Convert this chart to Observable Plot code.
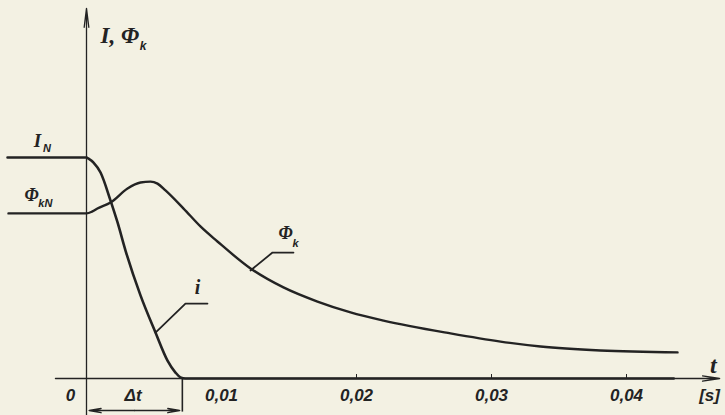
<!DOCTYPE html>
<html>
<head>
<meta charset="utf-8">
<script src="https://cdn.jsdelivr.net/npm/d3@7"></script>
<script src="https://cdn.jsdelivr.net/npm/@observablehq/plot@0.6"></script>
<style>
  html, body { margin: 0; padding: 0; background: #f3f1e3; }
  #chart { width: 725px; height: 415px; }
</style>
</head>
<body>
<div id="chart"></div>
<script>
// time (s) and current i (relative, I_N = 1)
const iT = [-0.00585, 0, 0.00015, 0.00052, 0.00104, 0.00178, 0.0023, 0.00289, 0.004, 0.00511, 0.006, 0.00659, 0.00696, 0.00733, 0.0435];
const iV = [1.0, 1.0, 0.995, 0.977, 0.932, 0.805, 0.706, 0.579, 0.376, 0.208, 0.081, 0.027, 0.005, 0, 0];
// time (s) and flux Φ_k (same relative units)
const phiT = [-0.00578, 0, 0.00044, 0.00081, 0.00178, 0.00304, 0.004, 0.00474, 0.00526, 0.00585, 0.00719, 0.00844, 0.0097, 0.01215, 0.01459, 0.01711, 0.01956, 0.022, 0.02696, 0.03067, 0.03363, 0.03807, 0.04378];
const phiV = [0.747, 0.747, 0.756, 0.769, 0.796, 0.86, 0.887, 0.891, 0.882, 0.851, 0.769, 0.688, 0.62, 0.498, 0.412, 0.348, 0.299, 0.262, 0.204, 0.167, 0.145, 0.127, 0.118];
// axis tick values and labels
const tickValues = [0, 0.01, 0.02, 0.03, 0.04];
const tickLabels = ["0", "0,01", "0,02", "0,03", "0,04"];
// switching interval Δt
const deltaT = 0.0071;

const iData = iT.map((t, k) => ({t, v: iV[k]}));
const phiData = phiT.map((t, k) => ({t, v: phiV[k]}));
const ink = "#232323";
const labelY = -0.077;
const lblFont = "'Liberation Sans', Arial, sans-serif";
const serif = "'Liberation Serif', 'DejaVu Serif', serif";

const chart = Plot.plot({
  width: 725,
  height: 415,
  margin: 0,
  x: {domain: [-86 / 13500, 639 / 13500], axis: null},
  y: {domain: [-37 / 221, 378 / 221], axis: null},
  style: {background: "#f3f1e3", overflow: "visible"},
  marks: [
    // axes with arrows
    Plot.arrow([{x1: -0.0023, y1: 0, x2: 0.0469, y2: 0}], {x1: "x1", y1: "y1", x2: "x2", y2: "y2", stroke: ink, strokeWidth: 1.3, headLength: 20, headAngle: 18}),
    Plot.arrow([{x1: 0, y1: -0.17, x2: 0, y2: 1.675}], {x1: "x1", y1: "y1", x2: "x2", y2: "y2", stroke: ink, strokeWidth: 1.3, headLength: 22, headAngle: 14}),
    // small tick marks
    Plot.ruleX(tickValues.slice(2), {x: d => d, y1: 0, y2: 0.018, stroke: ink, strokeWidth: 1}),
    // Δt dimension
    Plot.ruleX([deltaT], {x: d => d, y1: 0, y2: -0.152, stroke: ink, strokeWidth: 1.6}),
    Plot.arrow([{x1: deltaT / 2, x2: 0.0002}, {x1: deltaT / 2, x2: deltaT - 0.0002}], {x1: "x1", x2: "x2", y1: -0.145, y2: -0.145, stroke: ink, strokeWidth: 1.5, headLength: 12, headAngle: 20}),
    Plot.text(["Δt"], {x: deltaT / 2 - 0.0001, y: labelY, text: d => d, fontSize: 17, fontStyle: "italic", fontWeight: "bold", fontFamily: lblFont, fill: ink}),
    // curves
    Plot.line(iData, {x: "t", y: "v", curve: "monotone-x", stroke: ink, strokeWidth: 2.6}),
    Plot.line(phiData, {x: "t", y: "v", curve: "monotone-x", stroke: ink, strokeWidth: 2.4}),
    // leader lines
    Plot.line([{t: 0.01215, v: 0.489}, {t: 0.01378, v: 0.57}, {t: 0.01533, v: 0.57}], {x: "t", y: "v", stroke: ink, strokeWidth: 1.8}),
    Plot.line([{t: 0.00511, v: 0.208}, {t: 0.00733, v: 0.339}, {t: 0.00896, v: 0.339}], {x: "t", y: "v", stroke: ink, strokeWidth: 1.8}),
    // tick labels
    Plot.text(tickValues, {x: (d, k) => k === 0 ? -0.00119 : d, y: labelY, text: (d, k) => tickLabels[k], fontSize: 17, fontStyle: "italic", fontWeight: "bold", fontFamily: lblFont, fill: ink}),
    // axis unit labels
    Plot.text(["t"], {x: 0.04644, y: 0.06, text: d => d, fontSize: 24, fontStyle: "italic", fontWeight: "bold", fontFamily: serif, fill: ink}),
    Plot.text(["[s]"], {x: 0.04615, y: labelY, text: d => d, fontSize: 17, fontStyle: "italic", fontWeight: "bold", fontFamily: lblFont, fill: ink}),
    // y axis title
    Plot.text(["I, Φ"], {x: 0.00104, y: 1.552, text: d => d, textAnchor: "start", fontSize: 23, fontStyle: "italic", fontWeight: "bold", fontFamily: serif, fill: ink}),
    Plot.text(["k"], {x: 0.0042, y: 1.505, text: d => d, fontSize: 12, fontStyle: "italic", fontWeight: "bold", fontFamily: lblFont, fill: ink}),
    // level labels
    Plot.text(["I"], {x: -0.00363, y: 1.077, text: d => d, fontSize: 19, fontStyle: "italic", fontWeight: "bold", fontFamily: serif, fill: ink}),
    Plot.text(["N"], {x: -0.00293, y: 1.043, text: d => d, fontSize: 11, fontStyle: "italic", fontWeight: "bold", fontFamily: lblFont, fill: ink}),
    Plot.text(["Φ"], {x: -0.00407, y: 0.828, text: d => d, fontSize: 18, fontStyle: "italic", fontWeight: "bold", fontFamily: serif, fill: ink}),
    Plot.text(["kN"], {x: -0.00305, y: 0.794, text: d => d, fontSize: 11, fontStyle: "italic", fontWeight: "bold", fontFamily: lblFont, fill: ink}),
    // curve labels
    Plot.text(["Φ"], {x: 0.01474, y: 0.656, text: d => d, fontSize: 18, fontStyle: "italic", fontWeight: "bold", fontFamily: serif, fill: ink}),
    Plot.text(["k"], {x: 0.01548, y: 0.613, text: d => d, fontSize: 11, fontStyle: "italic", fontWeight: "bold", fontFamily: lblFont, fill: ink}),
    Plot.text(["i"], {x: 0.00822, y: 0.412, text: d => d, fontSize: 20, fontStyle: "italic", fontWeight: "bold", fontFamily: serif, fill: ink})
  ]
});
document.getElementById("chart").appendChild(chart);
</script>
</body>
</html>
